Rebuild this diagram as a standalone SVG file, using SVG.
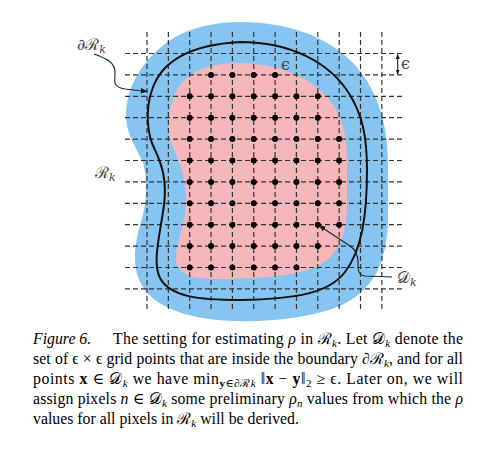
<svg xmlns="http://www.w3.org/2000/svg" width="496" height="463" viewBox="0 0 496 463">
<style>
.grid{stroke:#333;stroke-width:1.2;stroke-dasharray:5 3;fill:none}
.dot{fill:#000}
.lbl{font-family:"DejaVu Serif","Liberation Serif",serif;fill:#444;font-size:16px}
.sub{font-size:11px;font-style:italic}
.cap{font-family:"Liberation Serif","DejaVu Serif",serif;font-size:15.8px;fill:#000}
.cs{font-size:11px;font-style:italic}
.lead{fill:none;stroke:#222;stroke-width:1.1}
</style>
<defs>
<marker id="ah" viewBox="0 0 10 10" refX="9" refY="5" markerWidth="7" markerHeight="7" orient="auto" markerUnits="userSpaceOnUse">
<path d="M0,1 L10,5 L0,9 Z" fill="#111"/>
</marker>
<marker id="tk" viewBox="0 0 10 10" refX="9" refY="5" markerWidth="5" markerHeight="5" orient="auto" markerUnits="userSpaceOnUse">
<path d="M0,1 L10,5 L0,9 Z" fill="#111"/>
</marker>
</defs>
<rect width="496" height="463" fill="#fff"/>
<g id="region">
<path d="M240 22 C300 22,350 45,372 90 C385 115,388 140,388 170 L388 215 C388 260,375 290,340 306 C310 318,270 322,235 321 C195 320,160 310,145 290 C132 272,133 250,140 225 C147 205,148 180,143 163 C138 150,126 135,126 115 C126 90,140 65,160 48 C180 30,210 22,240 22 Z" fill="#86C5F2"/>
<path d="M240 63 C280 64,315 78,333 105 C345 124,347 140,347 165 L347 205 C347 240,335 265,300 272 C280 277,250 279,215 279 C190 279,176 273,176 258 C176 240,186 225,186 200 C186 175,178 160,172 145 C166 130,168 105,178 88 C190 70,210 63,240 63 Z" fill="#F5B7BA"/>
</g>
<g id="grid">
<path class="grid" d="M125 53.5H403M125 74.9H403M125 96.3H403M125 117.7H403M125 139.1H403M125 160.5H403M125 181.9H403M125 203.3H403M125 224.7H403M125 246.1H403M125 267.5H403M125 288.9H403"/>
<path class="grid" d="M147 32V310M168.35 32V310M189.7 32V310M211.05 32V310M232.4 32V310M253.75 32V310M275.1 32V310M296.45 32V310M317.8 32V310M339.15 32V310M360.5 32V310M381.85 32V310"/>
</g>
<g id="boundary">
<path d="M240 42 C290 42,330 62,350 95 C362 115,367 135,367 170 C367 215,362 250,345 272 C330 292,300 299,240 300 C200 300,170 297,160 278 C152 262,160 235,164 205 C167 180,162 165,155 150 C147 135,145 110,152 90 C160 65,185 45,240 42 Z" fill="none" stroke="#111" stroke-width="2"/>
</g>
<g id="points">
<g class="dot">
<circle cx="211.05" cy="74.9" r="3"/><circle cx="232.4" cy="74.9" r="3"/><circle cx="253.75" cy="74.9" r="3"/><circle cx="275.1" cy="74.9" r="3"/>
<circle cx="189.7" cy="96.3" r="3"/><circle cx="211.05" cy="96.3" r="3"/><circle cx="232.4" cy="96.3" r="3"/><circle cx="253.75" cy="96.3" r="3"/><circle cx="275.1" cy="96.3" r="3"/><circle cx="296.45" cy="96.3" r="3"/><circle cx="317.8" cy="96.3" r="3"/>
<circle cx="189.7" cy="117.7" r="3"/><circle cx="211.05" cy="117.7" r="3"/><circle cx="232.4" cy="117.7" r="3"/><circle cx="253.75" cy="117.7" r="3"/><circle cx="275.1" cy="117.7" r="3"/><circle cx="296.45" cy="117.7" r="3"/><circle cx="317.8" cy="117.7" r="3"/>
<circle cx="189.7" cy="139.1" r="3"/><circle cx="211.05" cy="139.1" r="3"/><circle cx="232.4" cy="139.1" r="3"/><circle cx="253.75" cy="139.1" r="3"/><circle cx="275.1" cy="139.1" r="3"/><circle cx="296.45" cy="139.1" r="3"/><circle cx="317.8" cy="139.1" r="3"/><circle cx="339.15" cy="139.1" r="3"/>
<circle cx="189.7" cy="160.5" r="3"/><circle cx="211.05" cy="160.5" r="3"/><circle cx="232.4" cy="160.5" r="3"/><circle cx="253.75" cy="160.5" r="3"/><circle cx="275.1" cy="160.5" r="3"/><circle cx="296.45" cy="160.5" r="3"/><circle cx="317.8" cy="160.5" r="3"/><circle cx="339.15" cy="160.5" r="3"/>
<circle cx="189.7" cy="181.9" r="3"/><circle cx="211.05" cy="181.9" r="3"/><circle cx="232.4" cy="181.9" r="3"/><circle cx="253.75" cy="181.9" r="3"/><circle cx="275.1" cy="181.9" r="3"/><circle cx="296.45" cy="181.9" r="3"/><circle cx="317.8" cy="181.9" r="3"/><circle cx="339.15" cy="181.9" r="3"/>
<circle cx="189.7" cy="203.3" r="3"/><circle cx="211.05" cy="203.3" r="3"/><circle cx="232.4" cy="203.3" r="3"/><circle cx="253.75" cy="203.3" r="3"/><circle cx="275.1" cy="203.3" r="3"/><circle cx="296.45" cy="203.3" r="3"/><circle cx="317.8" cy="203.3" r="3"/><circle cx="339.15" cy="203.3" r="3"/>
<circle cx="189.7" cy="224.7" r="3"/><circle cx="211.05" cy="224.7" r="3"/><circle cx="232.4" cy="224.7" r="3"/><circle cx="253.75" cy="224.7" r="3"/><circle cx="275.1" cy="224.7" r="3"/><circle cx="296.45" cy="224.7" r="3"/><circle cx="317.8" cy="224.7" r="3"/><circle cx="339.15" cy="224.7" r="3"/>
<circle cx="189.7" cy="246.1" r="3"/><circle cx="211.05" cy="246.1" r="3"/><circle cx="232.4" cy="246.1" r="3"/><circle cx="253.75" cy="246.1" r="3"/><circle cx="275.1" cy="246.1" r="3"/><circle cx="296.45" cy="246.1" r="3"/><circle cx="317.8" cy="246.1" r="3"/>
<circle cx="189.7" cy="267.5" r="3"/><circle cx="211.05" cy="267.5" r="3"/><circle cx="232.4" cy="267.5" r="3"/><circle cx="253.75" cy="267.5" r="3"/><circle cx="275.1" cy="267.5" r="3"/><circle cx="296.45" cy="267.5" r="3"/>
</g>
</g>
<g id="connectors">
<path class="lead" d="M94 54 C105 58,115 62,115 72 C115 82,112 87,125 89 L147 91.5" marker-end="url(#ah)"/>
<path class="lead" d="M392 277 L365 276 C358 275,358 270,358 262 C358 255,356 250,350 246 L319 225.5" marker-end="url(#ah)"/>
<path class="lead" d="M397.7 64 L397.7 54.5" marker-end="url(#tk)"/>
<path class="lead" d="M397.7 64 L397.7 74" marker-end="url(#tk)"/>
</g>
<g id="label-dR">
<text class="lbl" x="77" y="50">∂ℛ<tspan class="sub" dy="3">k</tspan></text>
</g>
<g id="label-R">
<text class="lbl" x="95" y="178">ℛ<tspan class="sub" dy="3">k</tspan></text>
</g>
<g id="label-D">
<text class="lbl" x="397" y="283">𝒟<tspan class="sub" dy="3">k</tspan></text>
</g>
<g id="label-eps">
<text class="lbl" x="281" y="70">ϵ</text>
<text class="lbl" x="401" y="69">ϵ</text>
</g>
<g id="caption">
<text class="cap" x="33" y="344" font-style="italic">Figure 6.</text>
<text class="cap" x="113" y="344" textLength="350" lengthAdjust="spacing">The setting for estimating <tspan font-style="italic">ρ</tspan> in ℛ<tspan class="cs" dy="3">k</tspan><tspan dy="-3">. Let 𝒟</tspan><tspan class="cs" dy="3">k</tspan><tspan dy="-3"> denote the</tspan></text>
<text class="cap" x="33" y="364" textLength="430" lengthAdjust="spacing">set of ϵ × ϵ grid points that are inside the boundary ∂ℛ<tspan class="cs" dy="3">k</tspan><tspan dy="-3">, and for all</tspan></text>
<text class="cap" x="33" y="384" textLength="430" lengthAdjust="spacing">points <tspan font-weight="bold">x</tspan> ∈ 𝒟<tspan class="cs" dy="3">k</tspan><tspan dy="-3"> we have min</tspan><tspan font-size="11" dy="3"><tspan font-weight="bold">y</tspan>∈∂ℛ<tspan font-style="italic">k</tspan></tspan><tspan dy="-3"> ‖<tspan font-weight="bold">x</tspan> − <tspan font-weight="bold">y</tspan>‖</tspan><tspan font-size="11" dy="3">2</tspan><tspan dy="-3"> ≥ ϵ. Later on, we will</tspan></text>
<text class="cap" x="33" y="404" textLength="430" lengthAdjust="spacing">assign pixels <tspan font-style="italic">n</tspan> ∈ 𝒟<tspan class="cs" dy="3">k</tspan><tspan dy="-3"> some preliminary </tspan><tspan font-style="italic">ρ</tspan><tspan class="cs" dy="3">n</tspan><tspan dy="-3"> values from which the </tspan><tspan font-style="italic">ρ</tspan></text>
<text class="cap" x="33" y="424">values for all pixels in ℛ<tspan class="cs" dy="3">k</tspan><tspan dy="-3"> will be derived.</tspan></text>
</g>
</svg>
